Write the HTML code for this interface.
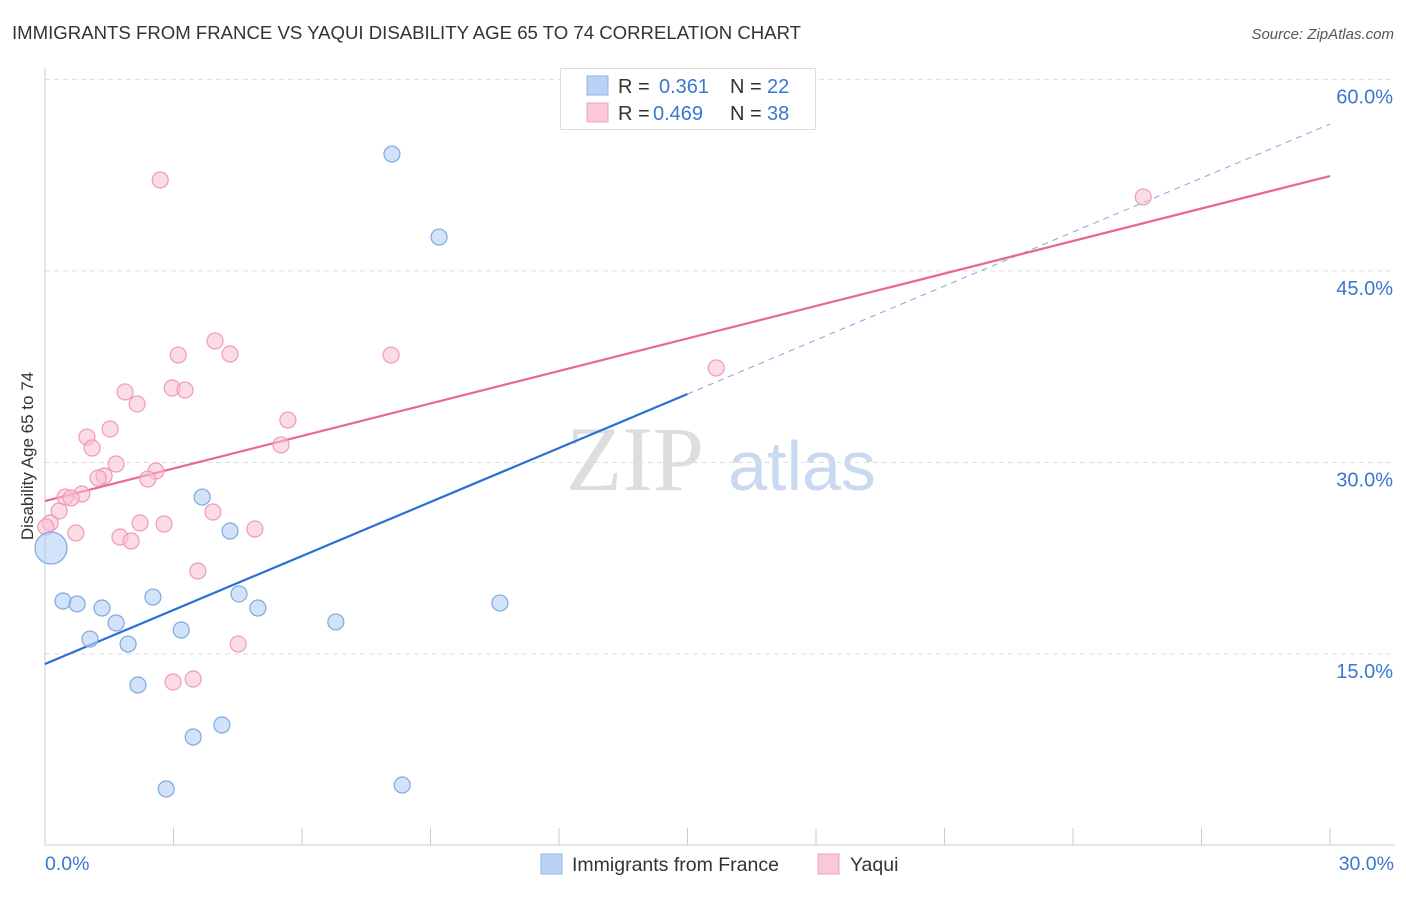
<!DOCTYPE html>
<html><head><meta charset="utf-8"><style>
body{margin:0;background:#fff;font-family:"Liberation Sans",sans-serif;}
svg text{font-family:"Liberation Sans",sans-serif;}
</style></head><body>
<svg id="chart" width="1406" height="892" xmlns="http://www.w3.org/2000/svg">
<text x="12" y="39" font-size="18.6" fill="#333">IMMIGRANTS FROM FRANCE VS YAQUI DISABILITY AGE 65 TO 74 CORRELATION CHART</text>
<text x="1394" y="39" font-size="15" fill="#555" text-anchor="end" font-style="italic">Source: ZipAtlas.com</text>
<text transform="translate(33,456) rotate(-90)" font-size="17" fill="#333" text-anchor="middle">Disability Age 65 to 74</text>
<g><text x="635" y="490" font-size="92" fill="#ddd" text-anchor="middle" font-family="Liberation Serif" style="font-family:'Liberation Serif',serif">ZIP</text><text x="802" y="490" font-size="70" fill="#c9daf0" text-anchor="middle">atlas</text></g>
<g id="grid"></g><g id="axes"></g><g id="lines"></g><g id="pts"></g>
<g>
<rect x="560.5" y="68.5" width="255" height="61" fill="#fff" stroke="#ddd"/>
<rect x="587" y="76" width="21" height="19" fill="#b9d3f5" stroke="#8fb3e6"/>
<rect x="587" y="103" width="21" height="19" fill="#fac8d8" stroke="#f0a0bc"/>
<text x="618" y="93" font-size="20" fill="#333">R = </text><text x="659" y="93" font-size="20" fill="#3a77d0">0.361</text>
<text x="730" y="93" font-size="20" fill="#333">N = </text><text x="767" y="93" font-size="20" fill="#3a77d0">22</text>
<text x="618" y="120" font-size="20" fill="#333">R = </text><text x="653" y="120" font-size="20" fill="#3a77d0">0.469</text>
<text x="730" y="120" font-size="20" fill="#333">N = </text><text x="767" y="120" font-size="20" fill="#3a77d0">38</text>
</g>
<g>
<rect x="541" y="854" width="21" height="20" fill="#b9d3f5" stroke="#8fb3e6"/>
<text x="572" y="871" font-size="19.5" fill="#333">Immigrants from France</text>
<rect x="818" y="854" width="21" height="20" fill="#fac8d8" stroke="#f0a0bc"/>
<text x="850" y="871" font-size="19.5" fill="#333">Yaqui</text>
</g>
</svg>
<script>
const yTicks=[15,30,45,60];
const yTickLabels=["15.0%","30.0%","45.0%","60.0%"];
const franceX=[8.10,9.20,3.67,4.32,0.14,0.42,0.75,1.33,2.52,4.53,4.97,1.66,1.05,1.94,3.18,6.79,10.62,2.17,3.46,4.13,2.83,8.34];
const franceY=[54.15,47.65,27.29,24.63,23.30,19.15,18.92,18.60,19.46,19.70,18.60,17.43,16.17,15.78,16.88,17.51,18.99,12.57,8.50,9.44,4.43,4.74];
const yaquiX=[2.69,25.64,3.97,4.32,3.11,8.08,15.67,2.97,3.27,1.87,2.15,5.67,1.52,0.98,1.10,5.51,1.66,2.59,1.38,1.24,2.40,0.86,0.47,0.61,0.33,3.92,0.12,0.02,2.22,2.78,4.90,0.72,1.75,2.01,3.57,4.51,2.99,3.46];
const yaquiY=[52.12,50.79,39.51,38.49,38.41,38.41,37.40,35.83,35.67,35.52,34.58,33.32,32.62,31.99,31.13,31.37,29.88,29.33,28.94,28.78,28.70,27.53,27.29,27.22,26.20,26.12,25.26,24.95,25.26,25.18,24.79,24.48,24.16,23.85,21.50,15.78,12.81,13.04];
const franceFit=[14.22,56.50];
const yaquiFit=[26.98,52.43];
const NS="http://www.w3.org/2000/svg";
const X=v=>45+v*1285/30, Y=v=>654-(v-15)*12.77;
function mk(t,a,p){const e=document.createElementNS(NS,t);for(const k in a)e.setAttribute(k,a[k]);p.appendChild(e);return e;}
const g=document.getElementById('grid'),ax=document.getElementById('axes'),ln=document.getElementById('lines'),pt=document.getElementById('pts');
yTicks.forEach((t,i)=>{
 const l=mk('line',{x1:45,x2:1395,y1:Y(t),y2:Y(t),stroke:'#ddd','stroke-dasharray':'5,4'},g);
 
 
 const tx=mk('text',{x:1393,y:Y(t)+24,'font-size':20,fill:'#3a77d0','text-anchor':'end'},g);
 tx.textContent=yTickLabels[i];
 
 
});
let a=mk('line',{x1:45,x2:45,y1:68,y2:845,stroke:'#ccc'},ax);

a=mk('line',{x1:45,x2:1395,y1:845,y2:845,stroke:'#ccc'},ax);

for(let i=1;i<=10;i++){const t=mk('line',{x1:X(i*3),x2:X(i*3),y1:828,y2:845,stroke:'#ccc'},ax);
 
 }
let t0=mk('text',{x:45,y:870,'font-size':19.5,fill:'#3a77d0'},ax);t0.textContent='0.0%';

t0=mk('text',{x:1394,y:870,'font-size':19.5,fill:'#3a77d0','text-anchor':'end'},ax);t0.textContent='30.0%';

const fy=v=>franceFit[0]+(franceFit[1]-franceFit[0])*v/30;
let l=mk('line',{x1:X(0),y1:Y(fy(0)),x2:X(15),y2:Y(fy(15)),stroke:'#2a6fd6','stroke-width':2.2},ln);

l=mk('line',{x1:X(15),y1:Y(fy(15)),x2:X(30),y2:Y(fy(30)),stroke:'#7fa8dd','stroke-width':1,'stroke-dasharray':'6,5'},ln);

l=mk('line',{x1:X(0),y1:Y(yaquiFit[0]),x2:X(30),y2:Y(yaquiFit[1]),stroke:'#e8688f','stroke-width':2.2},ln);

yaquiX.forEach((x,i)=>{const c=mk('circle',{cx:X(x),cy:Y(yaquiY[i]),r:8,fill:'rgba(248,190,210,0.55)',stroke:'#ef9ab8','stroke-width':1.2},pt);
 
 });
franceX.forEach((x,i)=>{const c=mk('circle',{cx:X(x),cy:Y(franceY[i]),r:i==4?16:8,fill:'rgba(180,208,245,0.6)',stroke:'#7ea8e0','stroke-width':1.2},pt);
 
 });
</script>
</body></html>
